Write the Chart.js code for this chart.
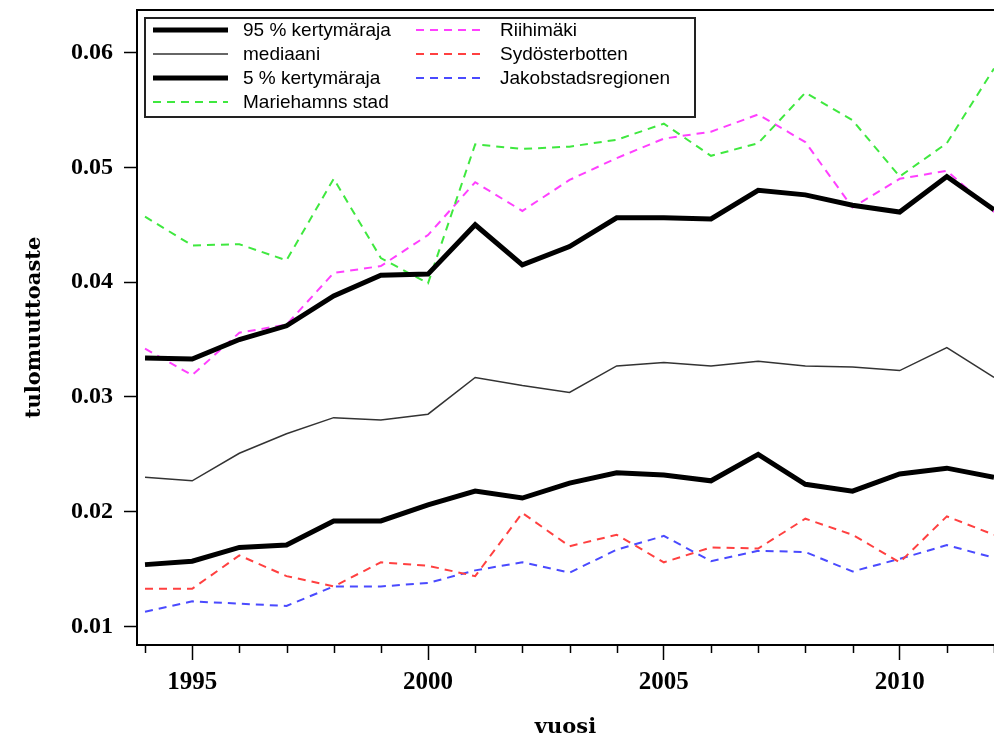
<!DOCTYPE html>
<html>
<head>
<meta charset="utf-8">
<script src="https://cdn.jsdelivr.net/npm/chart.js@4.4.1/dist/chart.umd.min.js"></script>
<style>
html,body{margin:0;padding:0;background:#fff}
#wrap{width:994px;height:742px;position:relative}
</style>
</head>
<body>
<div id="wrap"><canvas id="c"></canvas></div>
<script>
// data
const years = [1994,1995,1996,1997,1998,1999,2000,2001,2002,2003,2004,2005,2006,2007,2008,2009,2010,2011,2012];
const p95 = [0.0334,0.0333,0.0350,0.0362,0.0388,0.0406,0.0407,0.0450,0.0415,0.0431,0.0456,0.0456,0.0455,0.0480,0.0476,0.0467,0.0461,0.0492,0.0463];
const median = [0.0230,0.0227,0.0251,0.0268,0.0282,0.0280,0.0285,0.0317,0.0310,0.0304,0.0327,0.0330,0.0327,0.0331,0.0327,0.0326,0.0323,0.0343,0.0317];
const p5 = [0.0154,0.0157,0.0169,0.0171,0.0192,0.0192,0.0206,0.0218,0.0212,0.0225,0.0234,0.0232,0.0227,0.0250,0.0224,0.0218,0.0233,0.0238,0.0230];
const mariehamn = [0.0457,0.0432,0.0433,0.0419,0.0490,0.0421,0.0399,0.0520,0.0516,0.0518,0.0524,0.0538,0.0510,0.0521,0.0565,0.0541,0.0492,0.0521,0.0586];
const riihimaki = [0.0342,0.0319,0.0356,0.0363,0.0408,0.0414,0.0441,0.0487,0.0462,0.0489,0.0508,0.0525,0.0531,0.0546,0.0522,0.0465,0.0490,0.0497,0.0461];
const sydost = [0.0133,0.0133,0.0162,0.0144,0.0135,0.0156,0.0153,0.0144,0.0199,0.0170,0.0180,0.0156,0.0169,0.0168,0.0194,0.0180,0.0156,0.0196,0.0180];
const jakobstad = [0.0113,0.0122,0.0120,0.0118,0.0135,0.0135,0.0138,0.0149,0.0156,0.0147,0.0167,0.0179,0.0157,0.0166,0.0165,0.0148,0.0159,0.0171,0.0160];

const yTicks = [0.01,0.02,0.03,0.04,0.05,0.06];
const yearLabels = [1995,2000,2005,2010];

const pts = arr => years.map((yr,i)=>({x:yr,y:arr[i]}));

const dash = [8,6];
const datasets = [
  {label:'95 % kertymäraja', data:pts(p95), borderColor:'#000', borderWidth:5, col:0, row:0},
  {label:'mediaani', data:pts(median), borderColor:'#333', borderWidth:1.5, col:0, row:1},
  {label:'5 % kertymäraja', data:pts(p5), borderColor:'#000', borderWidth:5, col:0, row:2},
  {label:'Mariehamns stad', data:pts(mariehamn), borderColor:'#3fe83f', borderWidth:2, borderDash:dash, col:0, row:3},
  {label:'Riihimäki', data:pts(riihimaki), borderColor:'#ff40ff', borderWidth:2, borderDash:dash, col:1, row:0},
  {label:'Sydösterbotten', data:pts(sydost), borderColor:'#ff4040', borderWidth:2, borderDash:dash, col:1, row:1},
  {label:'Jakobstadsregionen', data:pts(jakobstad), borderColor:'#4a4aff', borderWidth:2, borderDash:dash, col:1, row:2}
];

// no extra room for edge labels, the frame sits where the picture has it
const noPad = s => { s.paddingTop = 0; s.paddingBottom = 0; s.paddingLeft = 0; s.paddingRight = 0; };

// top frame line, minor x ticks and the two-column legend box
const extras = {
  id:'extras',
  afterDraw(chart){
    const ctx = chart.ctx, a = chart.chartArea, xs = chart.scales.x;
    ctx.save();
    ctx.strokeStyle = '#000';
    ctx.lineWidth = 2;
    ctx.beginPath(); ctx.moveTo(a.left, a.top); ctx.lineTo(a.right, a.top); ctx.stroke();

    ctx.lineWidth = 1.5;
    years.filter(y=>!yearLabels.includes(y)).forEach(y=>{
      const px = Math.round(xs.getPixelForValue(y))+0.5;
      ctx.beginPath(); ctx.moveTo(px, a.bottom); ctx.lineTo(px, a.bottom+8); ctx.stroke();
    });

    // legend
    const box = {x:145, y:18, w:550, h:99};
    ctx.fillStyle = '#fff';
    ctx.fillRect(box.x, box.y, box.w, box.h);
    ctx.strokeStyle = '#222';
    ctx.lineWidth = 2;
    ctx.strokeRect(box.x, box.y, box.w, box.h);
    const colX = [{s:153, e:228, t:243}, {s:416, e:486, t:500}];
    const rowY = [30, 54, 78, 102];
    ctx.font = '19px "Liberation Sans", Arial, sans-serif';
    ctx.textBaseline = 'middle';
    chart.data.datasets.forEach(ds=>{
      const c = colX[ds.col], y = rowY[ds.row];
      ctx.strokeStyle = ds.borderColor;
      ctx.lineWidth = ds.borderWidth;
      ctx.setLineDash(ds.borderDash || []);
      ctx.beginPath(); ctx.moveTo(c.s, y); ctx.lineTo(c.e, y); ctx.stroke();
      ctx.setLineDash([]);
      ctx.fillStyle = '#000';
      ctx.fillText(ds.label, c.t, y+1);
    });
    ctx.restore();
  }
};

new Chart(document.getElementById('c'), {
  type:'line',
  data:{datasets},
  options:{
    responsive:true,
    maintainAspectRatio:false,
    animation:false,
    devicePixelRatio:1,
    layout:{padding:{top:10, right:0, left:0, bottom:0}},
    elements:{point:{radius:0}, line:{tension:0}},
    plugins:{legend:{display:false}, tooltip:{enabled:false}},
    scales:{
      x:{
        type:'linear', min:1993.83, max:2012,
        afterBuildTicks: s => { s.ticks = years.map(v=>({value:v})); },
        afterFit: s => { s.height = 97; noPad(s); },
        ticks:{autoSkip:false, maxRotation:0, padding:8, color:'#000',
          font:{family:'"Liberation Serif", serif', size:25, weight:'bold'},
          callback: v => yearLabels.includes(v) ? String(v) : ''},
        grid:{drawOnChartArea:false, tickLength:15, tickWidth:1.5,
          tickColor: c => (c.tick && yearLabels.includes(c.tick.value)) ? '#000' : 'rgba(0,0,0,0)'},
        border:{color:'#000', width:2},
        title:{display:true, text:'vuosi', color:'#000',
          font:{family:'"DejaVu Serif", serif', size:21, weight:'bold'}, padding:{top:0, bottom:2}}
      },
      y:{
        min:0.0084, max:0.0637,
        afterBuildTicks: s => { s.ticks = yTicks.map(v=>({value:v})); },
        afterFit: s => { s.width = 137; noPad(s); },
        ticks:{padding:11, color:'#000',
          font:{family:'"Liberation Serif", serif', size:24, weight:'bold'},
          callback: v => v.toFixed(2)},
        grid:{drawOnChartArea:false, tickLength:13, tickWidth:1.5, tickColor:'#000'},
        border:{color:'#000', width:2},
        title:{display:true, text:'tulomuuttoaste', color:'#000',
          font:{family:'"DejaVu Serif", serif', size:21, weight:'bold'}, padding:{top:22, bottom:0}}
      }
    }
  },
  plugins:[extras]
});
</script>
</body>
</html>
